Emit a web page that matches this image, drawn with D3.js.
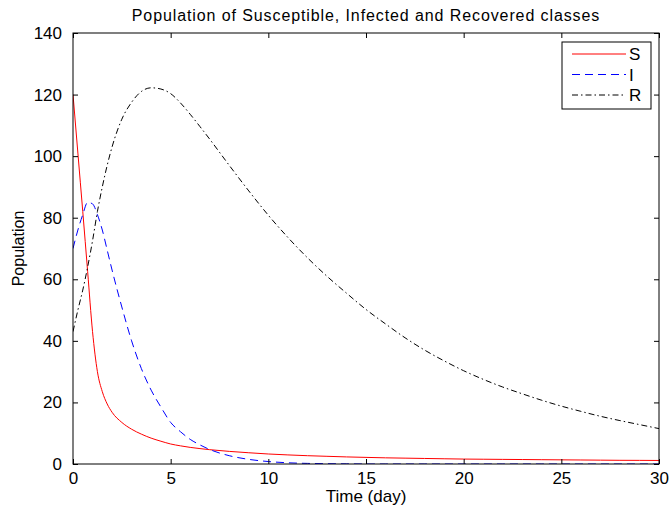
<!DOCTYPE html>
<html>
<head>
<meta charset="utf-8">
<script src="https://cdn.jsdelivr.net/npm/d3@7"></script>
<style>
  html, body { margin: 0; padding: 0; background: #fff; }
  svg { display: block; font-family: "Liberation Sans", Arial, Helvetica, sans-serif; }
</style>
</head>
<body>
<svg id="chart" width="670" height="512"></svg>
<script>
// ---- data ----
const title = "Population of Susceptible, Infected and Recovered classes";
const xLabel = "Time (day)";
const yLabel = "Population";
const xTicks = [0, 5, 10, 15, 20, 25, 30];
const yTicks = [0, 20, 40, 60, 80, 100, 120, 140];
const seriesNames = ["S", "I", "R"];

const time = [0, 0.25, 0.5, 0.75, 1, 1.25, 1.5, 1.75, 2, 2.5, 3, 3.5, 4, 4.5, 5, 5.5, 6, 6.5, 7,
              8, 9, 10, 11, 12, 13, 14, 15, 16, 17, 18, 19, 20, 21, 22, 23, 24, 25, 26, 27, 28, 29, 30];
const susceptible = [120, 101, 82, 62.5, 43, 30, 23.5, 19.5, 16.8, 13.5, 11.3, 9.7, 8.4, 7.4, 6.5, 5.9, 5.4, 5.0, 4.65,
              4.1, 3.65, 3.25, 2.95, 2.7, 2.5, 2.3, 2.15, 2.0, 1.9, 1.8, 1.7, 1.6, 1.55, 1.5, 1.45, 1.4, 1.35, 1.3, 1.25, 1.2, 1.18, 1.15];
const infected = [70, 76, 81, 85, 84.5, 81, 76, 69.5, 63, 51, 40, 31, 24, 18.5, 13.5, 10.5, 8, 6.2, 4.7,
              2.7, 1.5, 0.8, 0.4, 0.2, 0.1, 0.05, 0, 0, 0, 0, 0, 0, 0, 0, 0, 0, 0, 0, 0, 0, 0, 0];
const recovered = [43, 50, 56.5, 64, 72.5, 82, 90, 97, 103, 112, 117.5, 121, 122.2, 121.8, 120.3, 117.3, 113.6, 109.6, 105.5,
              97, 88.7, 80.8, 73.6, 67, 61, 55.5, 50.2, 45.5, 41, 37, 33.5, 30.3, 27.5, 25, 22.8, 20.7, 18.8, 17.1, 15.5, 14.1, 12.8, 11.5];

// ---- layout ----
const W = 670, H = 512;
const margin = { left: 73, right: 11, top: 33, bottom: 48 };
const pw = W - margin.left - margin.right;
const ph = H - margin.top - margin.bottom;

const svg = d3.select("#chart");
const g = svg.append("g").attr("transform", `translate(${margin.left},${margin.top})`);

const x = d3.scaleLinear().domain([0, 30]).range([0, pw]);
const y = d3.scaleLinear().domain([0, 140]).range([ph, 0]);

const styles = [
  { data: susceptible, color: "#ff0000", dash: null },
  { data: infected, color: "#0000ff", dash: "8,5" },
  { data: recovered, color: "#000000", dash: "6,3,1.5,3" }
];

svg.append("defs").append("clipPath").attr("id", "clip")
  .append("rect").attr("width", pw).attr("height", ph);

const line = d3.line().x(d => x(d[0])).y(d => y(d[1])).curve(d3.curveMonotoneX);
const plot = g.append("g").attr("clip-path", "url(#clip)");
styles.forEach(s => {
  plot.append("path")
    .datum(time.map((t, i) => [t, s.data[i]]))
    .attr("fill", "none")
    .attr("stroke", s.color)
    .attr("stroke-width", 1)
    .attr("stroke-dasharray", s.dash)
    .attr("d", line);
});

// axes (MATLAB style: inward ticks on all four sides)
const fs = 17;
const tickLen = 5;
const axStyle = sel => { sel.select(".domain").remove(); sel.selectAll("line").attr("stroke", "#000"); };

const xb = g.append("g").attr("transform", `translate(0,${ph})`)
  .call(d3.axisBottom(x).tickValues(xTicks).tickSize(-tickLen).tickPadding(8).tickFormat(d3.format("d")));
xb.call(axStyle);
xb.selectAll("text").attr("font-size", fs).attr("fill", "#000").attr("font-family", null);

const xt = g.append("g").call(d3.axisTop(x).tickValues(xTicks).tickSize(-tickLen).tickFormat(""));
xt.call(axStyle);

const yl = g.append("g")
  .call(d3.axisLeft(y).tickValues(yTicks).tickSize(-tickLen).tickPadding(11).tickFormat(d3.format("d")));
yl.call(axStyle);
yl.selectAll("text").attr("font-size", fs).attr("fill", "#000").attr("font-family", null);

const yr = g.append("g").attr("transform", `translate(${pw},0)`)
  .call(d3.axisRight(y).tickValues(yTicks).tickSize(-tickLen).tickFormat(""));
yr.call(axStyle);

g.append("rect").attr("width", pw).attr("height", ph)
  .attr("fill", "none").attr("stroke", "#000").attr("stroke-width", 1);

// title & labels
svg.append("text").attr("x", margin.left + pw / 2).attr("y", 21)
  .attr("text-anchor", "middle").attr("font-size", 16).attr("letter-spacing", 0.9).text(title);
svg.append("text").attr("x", margin.left + pw / 2).attr("y", 502)
  .attr("text-anchor", "middle").attr("font-size", 17).text(xLabel);
svg.append("text").attr("transform", `translate(24,${margin.top + ph / 2}) rotate(-90)`)
  .attr("text-anchor", "middle").attr("font-size", 16).text(yLabel);

// legend
const lg = svg.append("g").attr("transform", "translate(562,42)");
lg.append("rect").attr("width", 89).attr("height", 67)
  .attr("fill", "#fff").attr("stroke", "#000").attr("stroke-width", 1);
seriesNames.forEach((name, i) => {
  const yy = 12 + i * 20.5;
  lg.append("line").attr("x1", 10).attr("x2", 64).attr("y1", yy).attr("y2", yy)
    .attr("stroke", styles[i].color).attr("stroke-width", 1)
    .attr("stroke-dasharray", styles[i].dash);
  lg.append("text").attr("x", 67).attr("y", yy).attr("dy", "0.36em")
    .attr("font-size", 17).text(name);
});
</script>
</body>
</html>
